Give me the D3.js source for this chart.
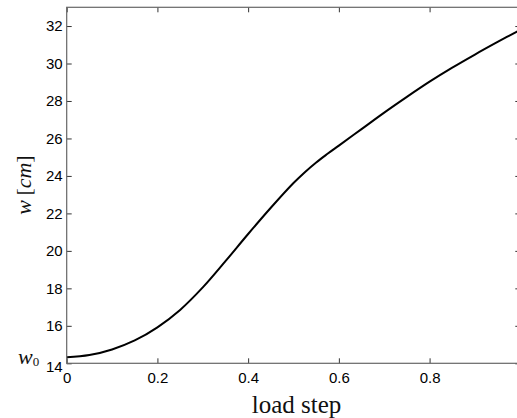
<!DOCTYPE html>
<html>
<head>
<meta charset="utf-8">
<script src="https://cdn.jsdelivr.net/npm/d3@7"></script>
<style>
  html, body { margin: 0; padding: 0; background: #fff; }
  svg { display: block; }
</style>
</head>
<body>
<svg id="chart" width="517" height="418"></svg>
<script>
// ---- data ----
const loadStep = [0, 0.05, 0.1, 0.15, 0.2, 0.25, 0.3, 0.35, 0.4, 0.45, 0.5, 0.525, 0.55, 0.575, 0.6, 0.65, 0.7, 0.75, 0.8, 0.85, 0.9, 0.95, 1.0];
const wValues  = [14.32, 14.44, 14.74, 15.22, 15.92, 16.85, 18.05, 19.45, 20.9, 22.3, 23.62, 24.2, 24.72, 25.18, 25.62, 26.5, 27.38, 28.22, 29.03, 29.78, 30.48, 31.15, 31.8];
const xTicks = [0, 0.2, 0.4, 0.6, 0.8];
const xTickLabels = ["0", "0.2", "0.4", "0.6", "0.8"];
const yTicks = [14, 16, 18, 20, 22, 24, 26, 28, 30, 32];
const yTickLabels = ["14", "16", "18", "20", "22", "24", "26", "28", "30", "32"];
const xDomain = [0, 1];
const yDomain = [14, 33];

(function () {
const svg = d3.select("#chart");
const pLeft = 66.7, pRight = 520.3, pTop = 7.3, pBottom = 363.3;
const x = d3.scaleLinear().domain(xDomain).range([pLeft, pRight]);
const y = d3.scaleLinear().domain(yDomain).range([pBottom, pTop]);

svg.append("rect").attr("width", 517).attr("height", 418).attr("fill", "#fff");

const tickFont = "'Liberation Sans', Arial, Helvetica, sans-serif";
const serif = "'Liberation Serif', 'Times New Roman', serif";

// curve
const line = d3.line()
  .x((d, i) => x(loadStep[i]))
  .y(d => y(d))
  .curve(d3.curveCatmullRom.alpha(0.5));
svg.append("path")
  .datum(wValues)
  .attr("fill", "none")
  .attr("stroke", "#000")
  .attr("stroke-width", 2)
  .attr("stroke-linejoin", "round")
  .attr("d", line);

function styleAxis(g) {
  g.select(".domain").remove();
  g.selectAll(".tick line").attr("stroke", "#333").attr("stroke-width", 1);
  g.selectAll(".tick text").attr("fill", "#000")
    .style("font-family", tickFont).style("font-size", "15px");
}

const xAxis = svg.append("g")
  .attr("transform", `translate(0,${pBottom})`)
  .call(d3.axisBottom(x).tickValues(xTicks)
    .tickFormat((d, i) => xTickLabels[i]).tickSize(-5).tickPadding(9));
styleAxis(xAxis);

const xTopAxis = svg.append("g")
  .attr("transform", `translate(0,${pTop})`)
  .call(d3.axisTop(x).tickValues(xTicks).tickFormat("").tickSize(-5));
styleAxis(xTopAxis);

const yAxis = svg.append("g")
  .attr("transform", `translate(${pLeft},0)`)
  .call(d3.axisLeft(y).tickValues(yTicks).tickFormat("").tickSize(-5));
styleAxis(yAxis);

// y tick labels (the bottom "14" sits a little lower in the reference)
svg.append("g").selectAll("text")
  .data(yTicks)
  .join("text")
  .attr("x", pLeft - 4)
  .attr("y", d => y(d) + (d === 14 ? 3 : 0))
  .attr("dy", "0.36em")
  .attr("text-anchor", "end")
  .attr("fill", "#000")
  .style("font-family", tickFont).style("font-size", "15px")
  .text((d, i) => yTickLabels[i]);

const yRightAxis = svg.append("g")
  .attr("transform", `translate(${pRight},0)`)
  .call(d3.axisRight(y).tickValues(yTicks).tickFormat("").tickSize(-5));
styleAxis(yRightAxis);

// frame
svg.append("rect")
  .attr("x", pLeft).attr("y", pTop)
  .attr("width", pRight - pLeft).attr("height", pBottom - pTop)
  .attr("fill", "none").attr("stroke", "#666").attr("stroke-width", 1.2);

// x label
svg.append("text")
  .attr("x", 296.5).attr("y", 413)
  .attr("text-anchor", "middle")
  .style("font-family", serif).style("font-size", "25px").attr("fill", "#111")
  .text("load step");

// y label
const yl = svg.append("text")
  .attr("transform", "translate(31,185) rotate(-90)")
  .attr("text-anchor", "middle")
  .style("font-family", serif).style("font-size", "22px").attr("fill", "#111");
yl.append("tspan").style("font-style", "italic").text("w");
yl.append("tspan").text("\u2009[");
yl.append("tspan").style("font-style", "italic").text("cm");
yl.append("tspan").text("]");

// w0 marker label
const w0 = svg.append("text")
  .attr("x", 18).attr("y", 363.5)
  .style("font-family", serif).attr("fill", "#111");
w0.append("tspan").style("font-style", "italic").style("font-size", "22px").text("w");
w0.append("tspan").attr("dy", 2.5).style("font-size", "13px").text("0");
})();
</script>
</body>
</html>
